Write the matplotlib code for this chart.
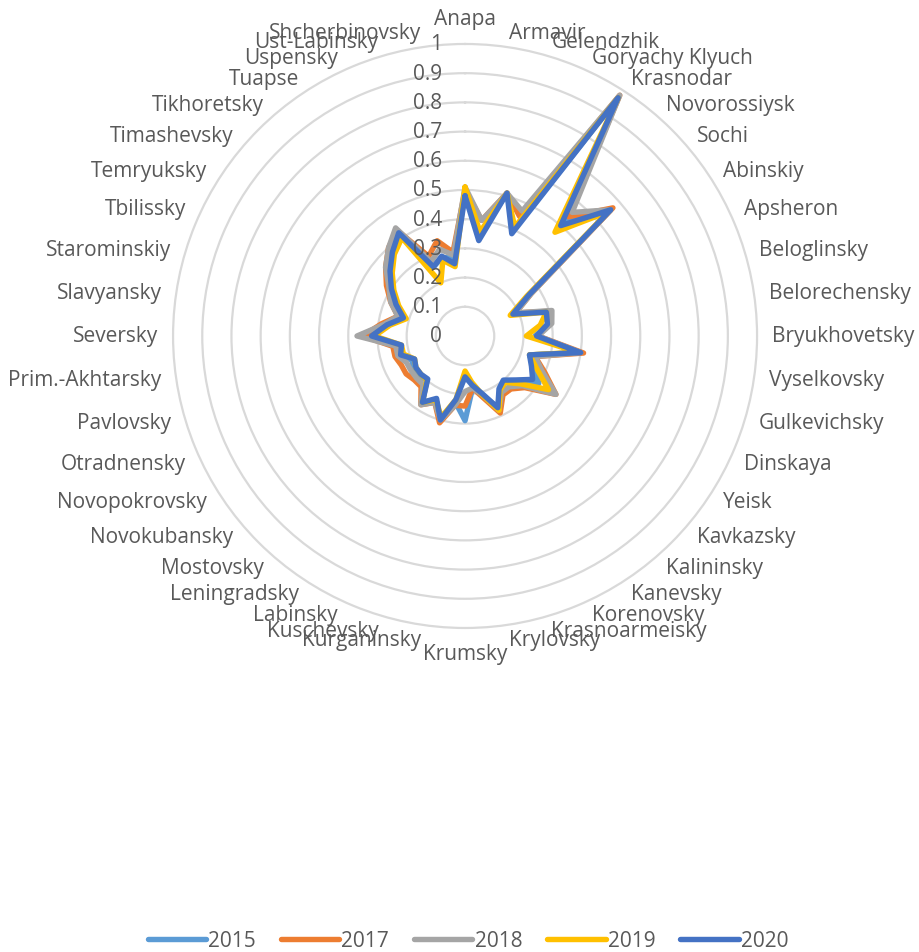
import numpy as np
import matplotlib.pyplot as plt
from matplotlib.transforms import ScaledTranslation

# categories (clockwise from top)
districts = ["Anapa", "Armavir", "Gelendzhik", "Goryachy Klyuch", "Krasnodar", "Novorossiysk", "Sochi",
             "Abinskiy", "Apsheron", "Beloglinsky", "Belorechensky", "Bryukhovetsky", "Vyselkovsky",
             "Gulkevichsky", "Dinskaya", "Yeisk", "Kavkazsky", "Kalininsky", "Kanevsky", "Korenovsky",
             "Krasnoarmeisky", "Krylovsky", "Krumsky", "Kurganinsky", "Kuschevsky", "Labinsky",
             "Leningradsky", "Mostovsky", "Novokubansky", "Novopokrovsky", "Otradnensky", "Pavlovsky",
             "Prim.-Akhtarsky", "Seversky", "Slavyansky", "Starominskiy", "Tbilissky", "Temryuksky",
             "Timashevsky", "Tikhoretsky", "Tuapse", "Uspensky", "Ust-Labinsky", "Shcherbinovsky"]

v2015 = [0.49, 0.35, 0.51, 0.40, 0.97, 0.52, 0.66, 0.26, 0.18, 0.30, 0.29, 0.24, 0.40,
         0.23, 0.26, 0.30, 0.24, 0.21, 0.22, 0.27, 0.21, 0.18, 0.29, 0.23, 0.30, 0.24,
         0.27, 0.20, 0.21, 0.21, 0.20, 0.23, 0.23, 0.33, 0.27, 0.23, 0.27, 0.30, 0.34,
         0.38, 0.41, 0.26, 0.28, 0.27]
v2017 = [0.50, 0.40, 0.51, 0.45, 0.98, 0.54, 0.67, 0.27, 0.19, 0.30, 0.29, 0.25, 0.41,
         0.25, 0.30, 0.37, 0.27, 0.24, 0.24, 0.29, 0.22, 0.18, 0.24, 0.24, 0.31, 0.25,
         0.28, 0.23, 0.23, 0.24, 0.24, 0.25, 0.25, 0.35, 0.29, 0.24, 0.28, 0.32, 0.36,
         0.40, 0.43, 0.30, 0.34, 0.29]
v2018 = [0.51, 0.40, 0.51, 0.47, 0.98, 0.56, 0.66, 0.27, 0.19, 0.31, 0.30, 0.25, 0.40,
         0.25, 0.29, 0.37, 0.26, 0.23, 0.23, 0.28, 0.21, 0.18, 0.19, 0.24, 0.30, 0.25,
         0.28, 0.22, 0.22, 0.22, 0.22, 0.24, 0.24, 0.37, 0.28, 0.24, 0.28, 0.31, 0.36,
         0.40, 0.44, 0.28, 0.31, 0.28]
v2019 = [0.51, 0.36, 0.51, 0.41, 0.97, 0.47, 0.65, 0.25, 0.17, 0.29, 0.26, 0.21, 0.39,
         0.23, 0.27, 0.34, 0.25, 0.21, 0.22, 0.28, 0.21, 0.16, 0.12, 0.22, 0.29, 0.24,
         0.27, 0.20, 0.20, 0.20, 0.19, 0.22, 0.22, 0.31, 0.26, 0.21, 0.25, 0.29, 0.33,
         0.37, 0.40, 0.20, 0.27, 0.24]
v2020 = [0.48, 0.33, 0.51, 0.385, 0.97, 0.50, 0.66, 0.26, 0.18, 0.29, 0.285, 0.245, 0.40,
         0.23, 0.25, 0.275, 0.23, 0.20, 0.215, 0.27, 0.205, 0.17, 0.14, 0.22, 0.30, 0.235,
         0.27, 0.195, 0.20, 0.20, 0.19, 0.23, 0.22, 0.32, 0.27, 0.22, 0.26, 0.30, 0.34,
         0.38, 0.42, 0.26, 0.285, 0.25]

years = ["2015", "2017", "2018", "2019", "2020"]
series = [v2015, v2017, v2018, v2019, v2020]
colors = ["#5B9BD5", "#ED7D31", "#A5A5A5", "#FFC000", "#4472C4"]

plt.rcParams['font.family'] = ['Open Sans', 'DejaVu Sans']
txt_color = "#595959"

fig = plt.figure(figsize=(9.19, 9.53), dpi=100)
ax = fig.add_axes([0.1883, 0.340, 0.6355, 0.6128], projection='polar')
ax.set_theta_zero_location('N')
ax.set_theta_direction(-1)

n = len(districts)
angles = np.linspace(0, 2 * np.pi, n, endpoint=False)
ang_closed = np.append(angles, angles[0])

for year, vals, c in zip(years, series, colors):
    ax.plot(ang_closed, vals + vals[:1], color=c, lw=3.9, label=year,
            solid_joinstyle='round', solid_capstyle='round')

ax.set_ylim(0, 1)
ax.set_yticks(np.arange(0.1, 1.01, 0.1))
ax.set_yticklabels([])
ax.set_xticks([])
ax.yaxis.grid(True, color="#D9D9D9", lw=1.6)
for gl in ax.yaxis.get_gridlines():
    gl.set_clip_on(False)
ax.xaxis.grid(False)
ax.spines['polar'].set_visible(False)
ax.set_facecolor('none')

# radial value labels
off = ScaledTranslation(-0.23, 0, fig.dpi_scale_trans)
for r in np.arange(0, 1.01, 0.1):
    lab = "0" if r == 0 else ("1" if r > 0.99 else f"{r:.1f}")
    ax.text(0, r, lab, ha='right', va='center', fontsize=15, color=txt_color,
            transform=ax.transData + off)

# category labels
for a, name in zip(angles, districts):
    s, co = np.sin(a), np.cos(a)
    if abs(s) < 1e-6:
        ha = 'center'
        va = 'bottom' if co > 0 else 'top'
    else:
        ha = 'left' if s > 0 else 'right'
        va = 'center'
    ax.text(a, 1.05, name, ha=ha, va=va, fontsize=15, color=txt_color)

fig.legend(loc='center', bbox_to_anchor=(468 / 919, 1 - 942 / 953), ncol=5, frameon=False,
           fontsize=15, handlelength=2.8, handletextpad=0.1, columnspacing=1.2,
           labelcolor=txt_color)

fig.savefig("out.png", dpi=100)
